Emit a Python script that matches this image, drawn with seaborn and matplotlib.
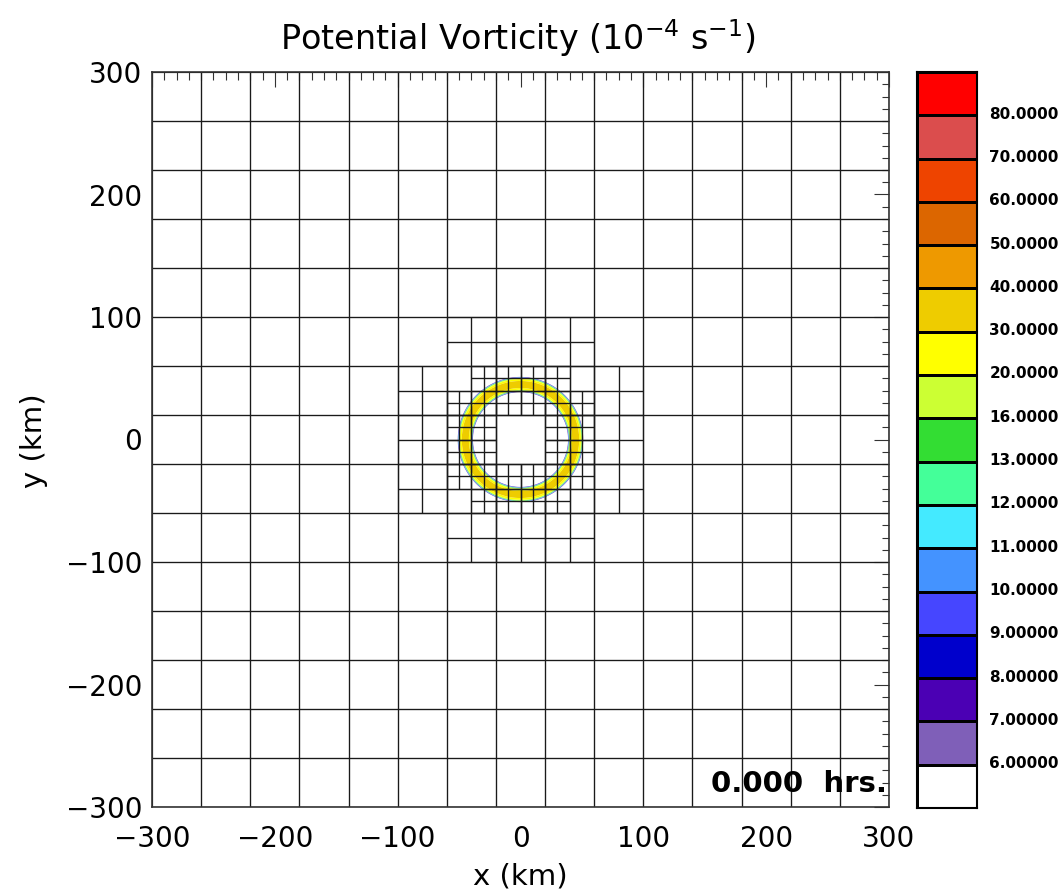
import numpy as np
import matplotlib
matplotlib.use("Agg")
import matplotlib.pyplot as plt
import seaborn as sns
from matplotlib.colors import ListedColormap
from matplotlib.ticker import MultipleLocator
from matplotlib.collections import LineCollection

# ---------------- data ----------------
pv_levels = [6, 7, 8, 9, 10, 11, 12, 13, 16, 20, 30, 40, 50, 60, 70, 80]
pv_labels = ["6.00000", "7.00000", "8.00000", "9.00000", "10.0000", "11.0000",
             "12.0000", "13.0000", "16.0000", "20.0000", "30.0000", "40.0000",
             "50.0000", "60.0000", "70.0000", "80.0000"]
pv_colors = ["#FFFFFF", "#7F5FB8", "#4B00B4", "#0000CC", "#4646FF", "#4493FF",
             "#44EAFF", "#44FF99", "#33DD33", "#CCFF33", "#FFFF00", "#EECC00",
             "#EE9900", "#DC6600", "#EE4400", "#DB4D4D", "#FF0000"]

# radial PV profile of the initial vortex ring (km, 1e-4 s^-1)
ring_radius_km = [0, 38.3, 38.7, 39.7, 40.6, 42.0, 43.5, 46.5, 47.8, 49.2, 50.1, 51.1, 51.5, 70]
ring_pv = [2, 2, 6, 13, 20, 30, 34, 34, 30, 20, 13, 6, 2, 2]

time_label = "0.000  hrs."

# AMR mesh: root blocks of 40 km over the domain
domain_km = [-300, 300]
root_block_km = 40
# lower-left corners of root blocks refined to 20 km blocks
refined_l1_x = [-60, -20, 20,
                -100, -60, -20, 20, 60,
                -100, -60, 20, 60,
                -100, -60, -20, 20, 60,
                -60, -20, 20]
refined_l1_y = [60, 60, 60,
                20, 20, 20, 20, 20,
                -20, -20, -20, -20,
                -60, -60, -60, -60, -60,
                -100, -100, -100]
# lower-left corners of 20 km blocks refined to 10 km blocks
refined_l2_x = [-40, -60, -40, 20, 20, 40,
                -60, -40, -40, 20, 40, 20,
                -20, 0, -20, 0,
                -20, 0, -20, 0,
                -60, -40, -60, -40,
                20, 40, 20, 40]
refined_l2_y = [40, 20, 20, 40, 20, 20,
                -40, -40, -60, -40, -40, -60,
                40, 40, 20, 20,
                -40, -40, -60, -60,
                0, 0, -20, -20,
                0, 0, -20, -20]

# ---------------- figure ----------------
sns.set_style("white")
plt.rcParams["font.family"] = ["DejaVu Sans"]
plt.rcParams["text.color"] = "black"
plt.rcParams["axes.labelcolor"] = "black"
plt.rcParams["xtick.color"] = "black"
plt.rcParams["ytick.color"] = "black"

fig = plt.figure(figsize=(10.64, 8.91), dpi=100)
W, H = 1064, 891
ax = fig.add_axes([152 / W, 1 - 807 / H, 737 / W, 735 / H])

# PV field
xs = np.linspace(-70, 70, 1401)
X, Y = np.meshgrid(xs, xs)
R = np.hypot(X, Y)
PV = np.interp(R, ring_radius_km, ring_pv)
levels_full = [-1000] + pv_levels + [1000]
ax.contourf(X, Y, PV, levels=levels_full, colors=pv_colors, zorder=1,
            antialiased=True)

# mesh block outlines
def block_segments(x0, y0, s):
    return [[(x0, y0), (x0 + s, y0)], [(x0 + s, y0), (x0 + s, y0 + s)],
            [(x0 + s, y0 + s), (x0, y0 + s)], [(x0, y0 + s), (x0, y0)]]

segs = []
starts = np.arange(domain_km[0], domain_km[1], root_block_km)
for bx in starts:
    for by in starts:
        segs += block_segments(bx, by, root_block_km)
half = root_block_km / 2
for bx, by in zip(refined_l1_x, refined_l1_y):
    for dx in (0, half):
        for dy in (0, half):
            segs += block_segments(bx + dx, by + dy, half)
quarter = root_block_km / 4
for bx, by in zip(refined_l2_x, refined_l2_y):
    for dx in (0, quarter):
        for dy in (0, quarter):
            segs += block_segments(bx + dx, by + dy, quarter)
ax.add_collection(LineCollection(segs, colors="#1a1a1a", linewidths=0.85, zorder=2))

ax.set_xlim(domain_km)
ax.set_ylim(domain_km)
ax.xaxis.set_major_locator(MultipleLocator(100))
ax.yaxis.set_major_locator(MultipleLocator(100))
ax.xaxis.set_minor_locator(MultipleLocator(10))
ax.yaxis.set_minor_locator(MultipleLocator(10))
ax.tick_params(which="both", direction="in", top=True, right=True,
               colors="#333333", labelcolor="black", width=0.8)
ax.tick_params(which="major", length=10.8, labelsize=20)
ax.tick_params(which="minor", length=5.4)
ax.tick_params(axis="x", which="major", pad=13)
ax.tick_params(axis="y", which="major", pad=7)
for sp in ax.spines.values():
    sp.set_visible(True)
    sp.set_color("#333333")
    sp.set_linewidth(1.2)
    sp.set_zorder(3)

ax.text(0.997, 0.021, time_label, transform=ax.transAxes, ha="right",
        va="baseline", fontsize=21, fontweight="bold", zorder=4, color="black")

fig.text(518 / W, 1 - 50 / H, "Potential Vorticity (10$^{-4}$ s$^{-1}$)",
         ha="center", va="baseline", fontsize=24, color="black")
fig.text(520 / W, 1 - 877 / H, "x (km)", ha="center", va="center",
         fontsize=21, color="black")
fig.text(34 / W, 1 - 441 / H, "y (km)", ha="center", va="center",
         fontsize=21, rotation=90, color="black")

# colour bar drawn as a seaborn heatmap strip
cax = fig.add_axes([917 / W, 1 - 808 / H, 60 / W, 736 / H])
bins = np.arange(len(pv_colors))[::-1].reshape(-1, 1)
sns.heatmap(bins, cmap=ListedColormap(pv_colors), vmin=-0.5,
            vmax=len(pv_colors) - 0.5, cbar=False, linewidths=1.0,
            linecolor="black", xticklabels=False, yticklabels=False, ax=cax)
cax.yaxis.tick_right()
cax.set_yticks(np.arange(1, len(pv_colors)) - 0.06)
cax.set_yticklabels(pv_labels[::-1], rotation=0)
cax.tick_params(axis="y", length=0, pad=9, labelsize=11, labelcolor="black")
for lab in cax.get_yticklabels():
    lab.set_fontweight("bold")
for sp in cax.spines.values():
    sp.set_visible(True)
    sp.set_color("black")
    sp.set_linewidth(1.5)
cax.set_xlabel("")
cax.set_ylabel("")

fig.savefig("out.png", dpi=100)
